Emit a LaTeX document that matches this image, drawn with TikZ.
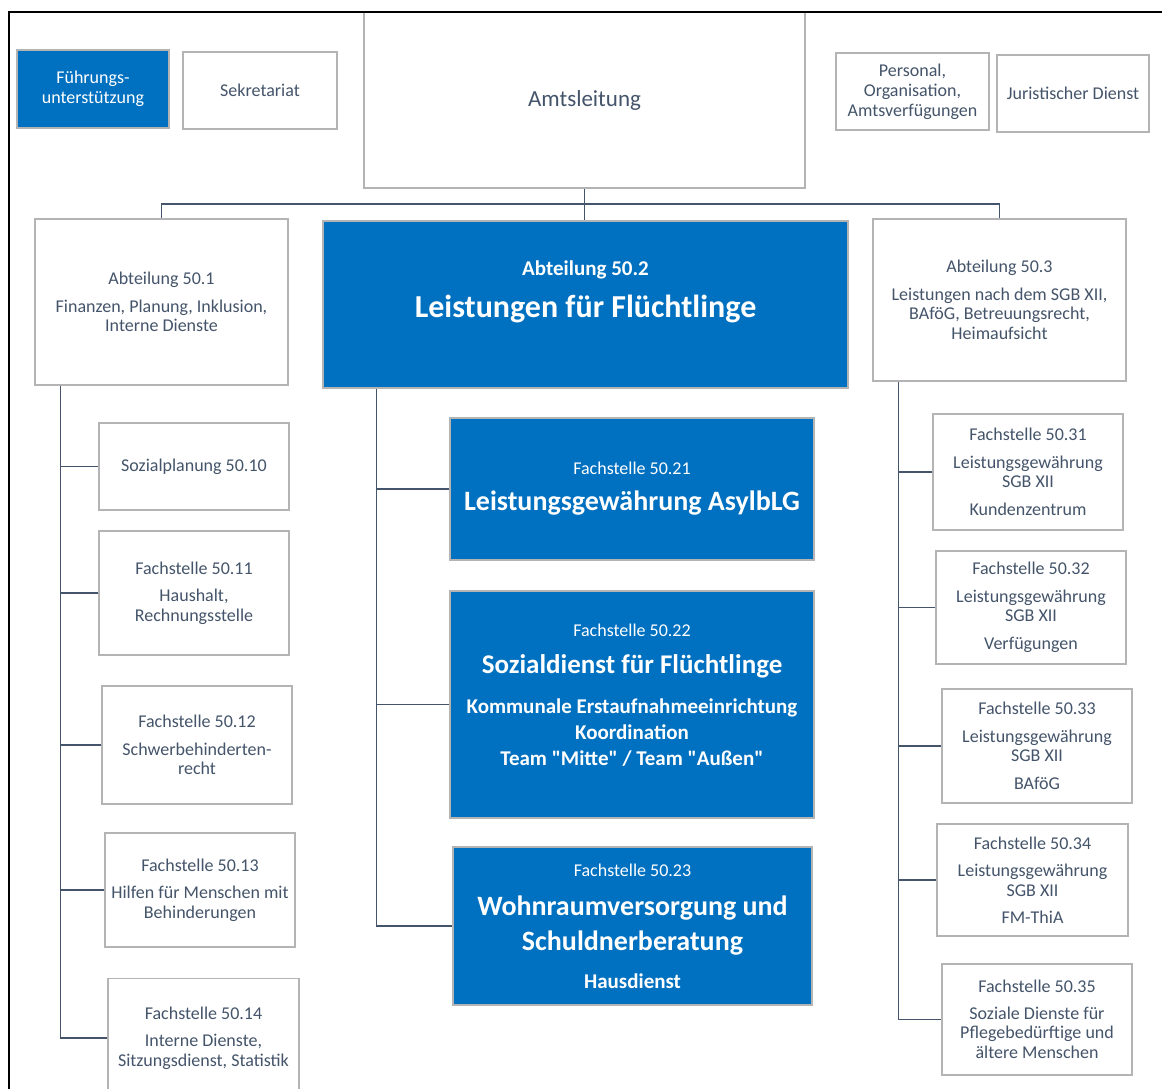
\documentclass[tikz,border=0pt]{standalone}
\usepackage{fontspec}
\setmainfont{Carlito}[Ligatures=TeXOff]
\definecolor{amtblau}{HTML}{0070C0}
\definecolor{textgrau}{HTML}{44546A}
\definecolor{rahmengrau}{HTML}{B4B4B4}
\tikzset{
  kasten/.style={draw=rahmengrau, line width=1.2pt, fill=white, text=textgrau,
    align=center, inner sep=0pt, font=\fontsize{18}{19.5}\selectfont},
  blaukasten/.style={kasten, fill=amtblau, text=white},
  linie/.style={draw=textgrau, line width=1.5pt},
}

\begin{document}
\begin{tikzpicture}[x=1pt, y=-1pt]
    \useasboundingbox (0,0) rectangle (1162,1089);

    % Amtsleitung und Stabsstellen
    \node[blaukasten, minimum width=152, minimum height=78] (fuehrung) at (93,89) {Führungs-\\unterstützung};
    \node[kasten, minimum width=154, minimum height=77] (sekretariat) at (260,90.5) {Sekretariat};
    \node[kasten, minimum width=441, minimum height=176, font=\fontsize{23}{26}\selectfont] (amt) at (584.5,100) {Amtsleitung};
    \node[kasten, minimum width=153, minimum height=77] (personal) at (912.5,91.5) {Personal,\\[0.5pt]Organisation,\\[0.5pt]Amtsverfügungen};
    \node[kasten, minimum width=152, minimum height=77] (jurist) at (1073,93.5) {Juristischer Dienst};

    % Abteilungen
    \node[kasten, minimum width=253, minimum height=166] (abt1) at (161.5,302) {Abteilung 50.1\\[8pt]Finanzen, Planung, Inklusion,\\Interne Dienste};
    \node[blaukasten, minimum width=525, minimum height=167, font=\fontsize{32}{36}\selectfont\bfseries] (abt2) at (585.5,304.5)
        {{\fontsize{21}{24}\selectfont Abteilung 50.2}\\[6pt]Leistungen für Flüchtlinge\\[-16pt]\strut};
    \node[kasten, minimum width=253, minimum height=162] (abt3) at (999.5,300) {Abteilung 50.3\\[8pt]Leistungen nach dem SGB XII,\\BAföG, Betreuungsrecht,\\Heimaufsicht};

    % Fachstellen 50.1x
    \node[kasten, minimum width=190, minimum height=87] (f10) at (194,466.5) {Sozialplanung 50.10};
    \node[kasten, minimum width=190, minimum height=124] (f11) at (194,593) {Fachstelle 50.11\\[8pt]Haushalt,\\Rechnungsstelle};
    \node[kasten, minimum width=190, minimum height=118] (f12) at (197,745) {Fachstelle 50.12\\[8pt]Schwerbehinderten-\\recht};
    \node[kasten, minimum width=190, minimum height=114] (f13) at (200,890) {Fachstelle 50.13\\[8pt]Hilfen für Menschen mit\\Behinderungen};
    \node[kasten, minimum width=191, minimum height=119] (f14) at (203.5,1038) {Fachstelle 50.14\\[8pt]Interne Dienste,\\Sitzungsdienst, Statistik};

    % Fachstellen 50.2x
    \node[blaukasten, minimum width=364, minimum height=142, font=\fontsize{28}{32}\selectfont\bfseries] (f21) at (632,489)
        {{\fontsize{18}{20}\selectfont\mdseries Fachstelle 50.21}\\[4pt]Leistungsgewährung AsylbLG};
    \node[blaukasten, minimum width=364, minimum height=227, font=\fontsize{21}{26}\selectfont\bfseries] (f22) at (632,704.5)
        {{\fontsize{18}{20}\selectfont\mdseries Fachstelle 50.22}\\[11pt]{\fontsize{27}{30}\selectfont Sozialdienst für Flüchtlinge}\\[14pt]Kommunale Erstaufnahmeeinrichtung\\Koordination\\Team "Mitte" / Team "Außen"\\[-14pt]\strut};
    \node[blaukasten, minimum width=359, minimum height=158, font=\fontsize{28}{35}\selectfont\bfseries] (f23) at (632.5,926)
        {{\fontsize{18}{20}\selectfont\mdseries Fachstelle 50.23}\\[4pt]Wohnraumversorgung und\\Schuldnerberatung\\[3pt]{\fontsize{21}{24}\selectfont Hausdienst}};

    % Fachstellen 50.3x
    \node[kasten, minimum width=190, minimum height=116] (f31) at (1028,472) {Fachstelle 50.31\\[8pt]Leistungsgewährung\\SGB XII\\[8pt]Kundenzentrum};
    \node[kasten, minimum width=190, minimum height=113] (f32) at (1031,607.5) {Fachstelle 50.32\\[8pt]Leistungsgewährung\\SGB XII\\[8pt]Verfügungen};
    \node[kasten, minimum width=190, minimum height=114] (f33) at (1037,746) {Fachstelle 50.33\\[8pt]Leistungsgewährung\\SGB XII\\[8pt]BAföG};
    \node[kasten, minimum width=191, minimum height=112] (f34) at (1032.5,880) {Fachstelle 50.34\\[8pt]Leistungsgewährung\\SGB XII\\[8pt]FM-ThiA};
    \node[kasten, minimum width=190, minimum height=111] (f35) at (1037,1019.5) {Fachstelle 50.35\\[7pt]Soziale Dienste für\\Pflegebedürftige und\\ältere Menschen};

    % Verbindungen
    \coordinate (bus) at (584.5,204);
    \draw[linie] (amt.south) -- (amt.south |- abt2.north);
    \draw[linie] (abt1.north) |- (bus) -| (abt3.north);

    \coordinate (s1) at ([xshift=26pt]abt1.south west);
    \draw[linie] (s1) |- (f14.west);
    \foreach \f in {f10,f11,f12,f13}
        \draw[linie] (\f.west) -- (\f.west -| s1);

    \coordinate (s2) at ([xshift=54pt]abt2.south west);
    \draw[linie] (s2) |- (f23.west);
    \foreach \f in {f21,f22}
        \draw[linie] (\f.west) -- (\f.west -| s2);

    \coordinate (s3) at ([xshift=26pt]abt3.south west);
    \draw[linie] (s3) |- (f35.west);
    \foreach \f in {f31,f32,f33,f34}
        \draw[linie] (\f.west) -- (\f.west -| s3);

    % Rahmen
    \draw[line width=1.5pt] (9,1089) -- (9,12) -- (1162,12);
\end{tikzpicture}
\end{document}
